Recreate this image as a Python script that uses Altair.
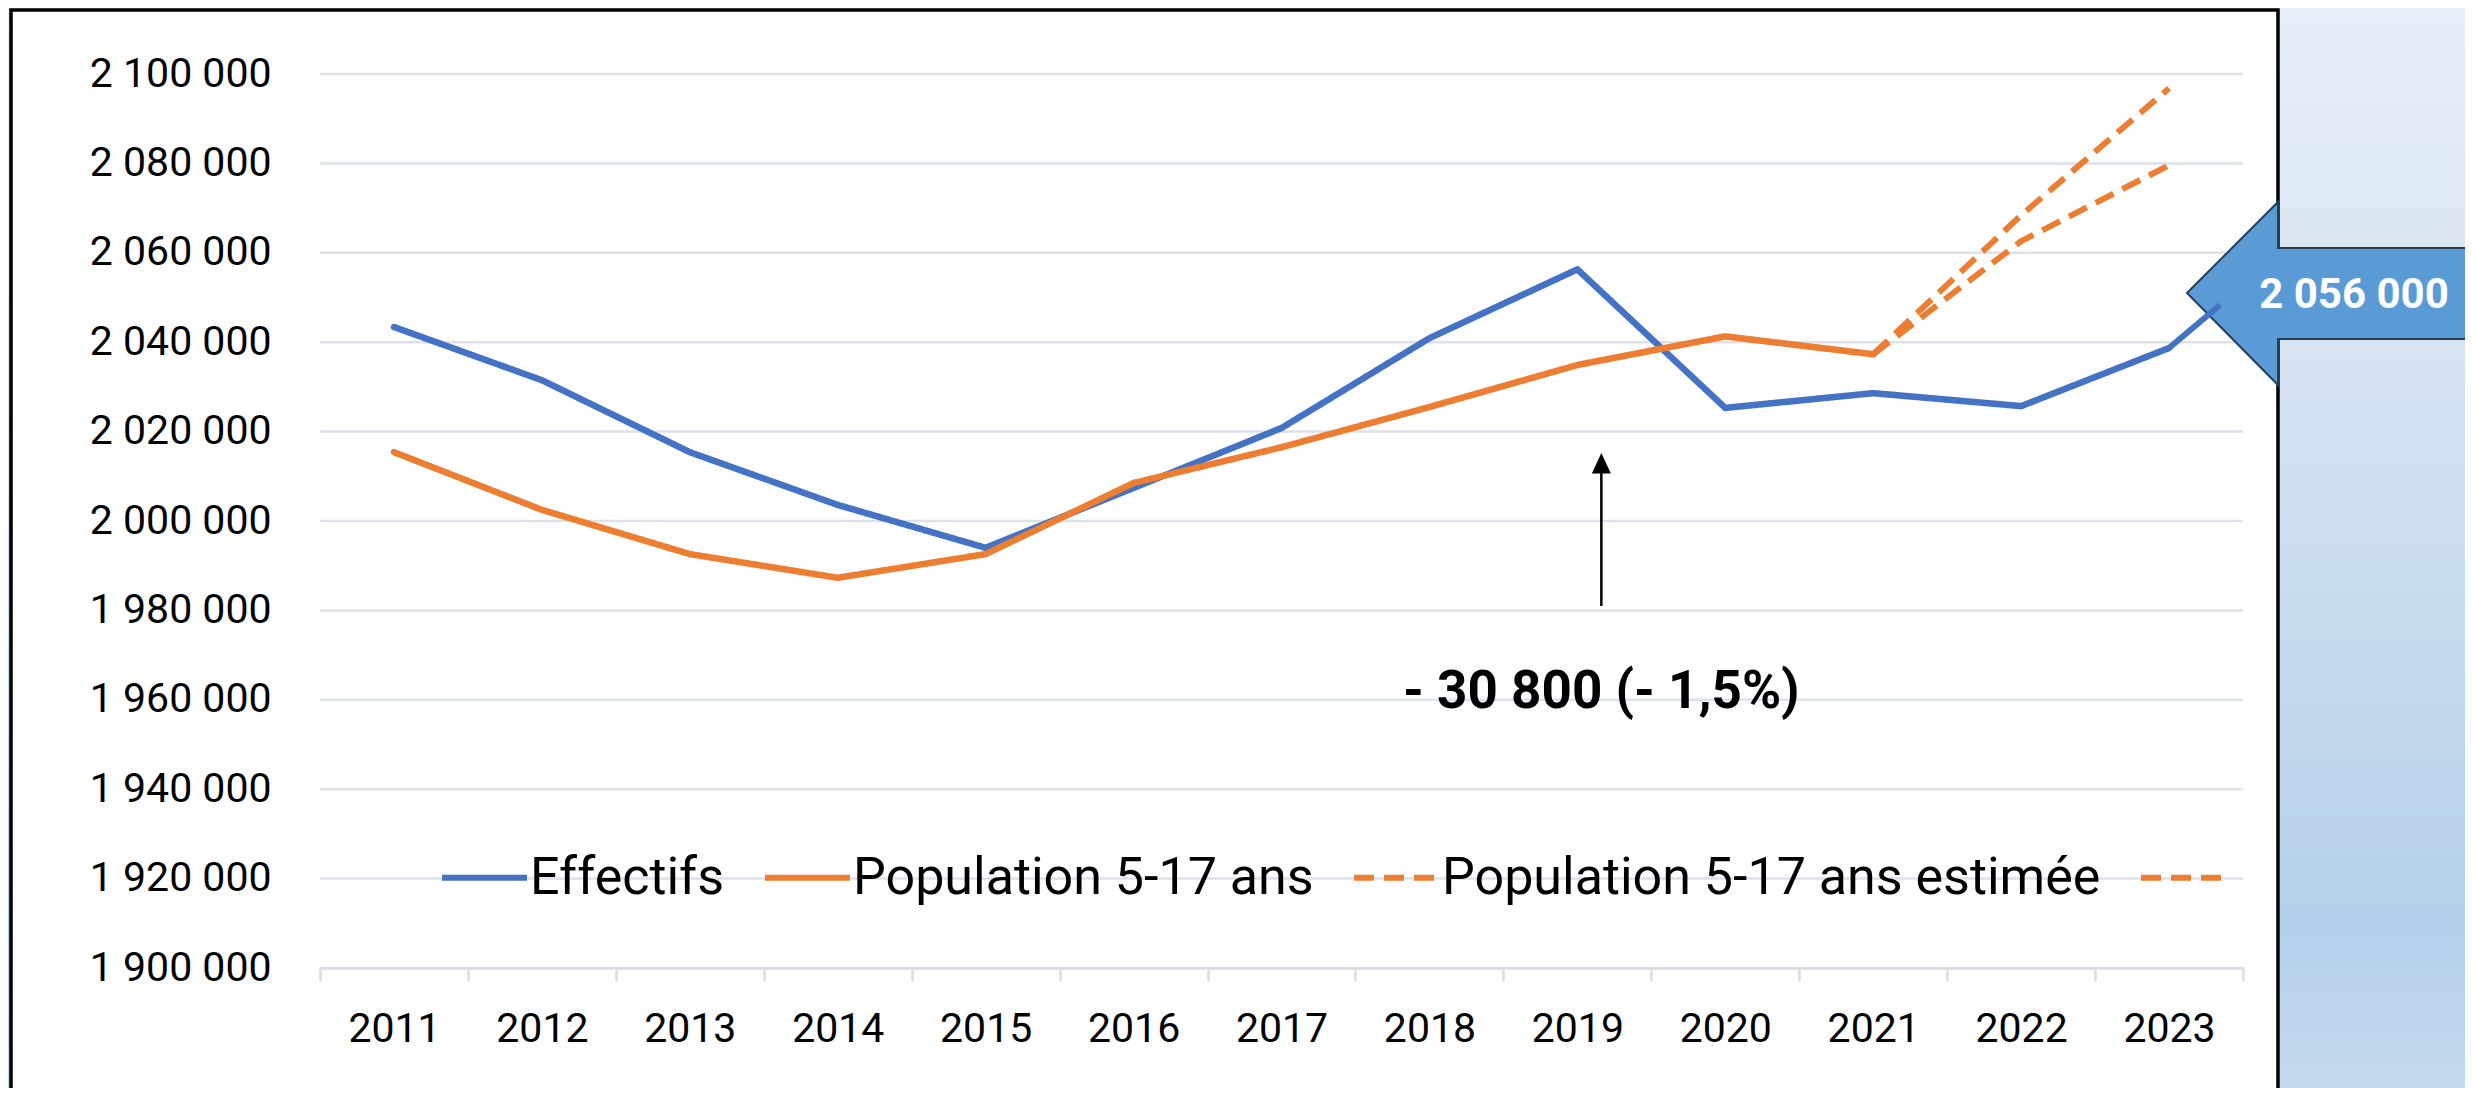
import altair as alt
import pandas as pd

# ---------------- data ----------------
years = [str(y) for y in range(2011, 2024)]
effectifs = [2043400, 2031500, 2015400, 2003600, 1994000, 2007400, 2020800,
             2040900, 2056300, 2025300, 2028600, 2025700, 2038700]
pop_years = years[:11]
population = [2015400, 2002500, 1992600, 1987300, 1992600, 2008500, 2016500,
              2025500, 2034900, 2041300, 2037300]
est_years = ["2021", "2022", "2023"]
est_basse = [2037300, 2062600, 2079600]
est_haute = [2037300, 2068400, 2096800]
series = ["Effectifs", "Population 5-17 ans", "Population 5-17 ans estimée",
          "Population 5-17 ans estimée (haute)"]
series_colors = ["#4472c4", "#ed7d31", "#ed7d31", "#ed7d31"]
y_ticks = list(range(1900000, 2100001, 20000))

annot_year = "2019"
annot_text = "- 30 800 (- 1,5%)"
annot_text_value = [1961700]
arrow_from = [1981000]
arrow_head = [2012860]
callout_year = "2023"
callout_text = "2 056 000"

# ---------------- tables ----------------
rows = []
for y, v in zip(years, effectifs):
    rows.append({"year": y, "value": v, "serie": series[0], "kind": "solid"})
for y, v in zip(pop_years, population):
    rows.append({"year": y, "value": v, "serie": series[1], "kind": "solid"})
for y, v in zip(est_years, est_basse):
    rows.append({"year": y, "value": v, "serie": series[2], "kind": "dash"})
for y, v in zip(est_years, est_haute):
    rows.append({"year": y, "value": v, "serie": series[3], "kind": "dash"})
df = pd.DataFrame(rows)
grid_df = pd.DataFrame({"value": y_ticks})
arrow_df = pd.DataFrame({"year": [annot_year], "value": arrow_from, "value2": arrow_head,
                         "text": [annot_text], "tv": annot_text_value})
callout_df = pd.DataFrame({"year": [callout_year],
                           "value": [effectifs[years.index(callout_year)]],
                           "text": [callout_text]})
dummy = pd.DataFrame({"a": [0]})

W, H = 1923, 894
FONT = "Roboto"

x_enc = alt.X("year:O",
              scale=alt.Scale(type="band", domain=years, paddingInner=0, paddingOuter=0),
              bandPosition=0.5,
              axis=alt.Axis(title=None, labelAngle=0, tickBand="extent", grid=False,
                            domainColor="#d9dde4", domainWidth=2.5,
                            tickColor="#d9dde4", tickWidth=2.5, tickSize=13,
                            labelFont=FONT, labelFontSize=41, labelColor="#000000",
                            labelPadding=28, labelLimit=0, zindex=1))
y_scale = alt.Scale(domain=[1900000, 2100000], nice=False, zero=False)
y_enc = alt.Y("value:Q", scale=y_scale,
              axis=alt.Axis(title=None, values=y_ticks, grid=False, domain=False,
                            ticks=False, tickSize=0,
                            labelExpr="replace(replace(format(datum.value, ','), ',', ' '), ',', ' ')",
                            labelFont=FONT, labelFontSize=41, labelColor="#000000",
                            labelPadding=49, labelLimit=0, zindex=1))

color_enc = alt.Color("serie:N",
                      scale=alt.Scale(domain=series, range=series_colors),
                      legend=alt.Legend(title=None, orient="none", direction="horizontal",
                                        legendX=119, legendY=758, padding=0,
                                        symbolType="stroke", symbolSize=7225,
                                        symbolStrokeWidth=6, labelOffset=0,
                                        columnPadding=28, labelFont=FONT,
                                        labelFontSize=52, labelColor="#000000",
                                        labelLimit=0,
                                        labelExpr="datum.label == '" + series[3] + "' ? '' : datum.label"))
dash_enc = alt.StrokeDash("serie:N",
                          scale=alt.Scale(domain=series,
                                          range=[[1, 0], [1, 0], [20, 10], [20, 10]]),
                          legend=None)

# ---------------- decorations ----------------
bg = alt.Chart(dummy).mark_rect(
    fill=alt.LinearGradient(
        gradient="linear", x1=0, x2=0, y1=0, y2=1,
        stops=[alt.GradientStop(color="#e6eef8", offset=0),
               alt.GradientStop(color="#dce7f3", offset=0.23),
               alt.GradientStop(color="#c5daee", offset=0.6),
               alt.GradientStop(color="#b3d0ea", offset=0.85),
               alt.GradientStop(color="#c4daef", offset=1)])
).encode(x=alt.value(-312), x2=alt.value(2145), y=alt.value(-66), y2=alt.value(1014))

box = alt.Chart(dummy).mark_rect(fill="#ffffff", stroke="#000000", strokeWidth=3.5).encode(
    x=alt.value(-309), x2=alt.value(1958), y=alt.value(-64), y2=alt.value(1040))

grid = alt.Chart(grid_df).mark_rule(color="#dde2ea", strokeWidth=2.5).encode(y=y_enc)

# ---------------- data lines ----------------
base = alt.Chart(df).encode(x=x_enc, y=y_enc, color=color_enc, strokeDash=dash_enc,
                            detail="serie:N")
solid = base.transform_filter(alt.datum.kind == "solid").mark_line(
    strokeWidth=6.5, strokeCap="round", strokeJoin="round")
dashed = base.transform_filter(alt.datum.kind == "dash").mark_line(
    strokeWidth=6, strokeCap="butt", strokeJoin="round")

# ---------------- annotations ----------------
arrow_line = alt.Chart(arrow_df).mark_rule(color="#000000", strokeWidth=2.5, xOffset=24).encode(
    x=x_enc, y=y_enc, y2="value2:Q")
arrow_tip = alt.Chart(arrow_df).mark_point(
    shape="M0,-1.05 L-0.95,1 L0.95,1 Z", size=400, filled=True, fill="#000000",
    stroke="#000000", strokeWidth=0, opacity=1, xOffset=24).encode(
    x=x_enc, y=alt.Y("value2:Q", scale=y_scale))
arrow_text = alt.Chart(arrow_df).mark_text(
    font=FONT, fontSize=53, fontWeight="bold", color="#000000", align="center",
    baseline="middle", xOffset=24).encode(
    x=x_enc, y=alt.Y("tv:Q", scale=y_scale), text="text:N")

leader = alt.Chart(callout_df).mark_rule(color="#4472c4", strokeWidth=6).encode(
    x=x_enc, y=y_enc, x2=alt.value(1900), y2=alt.value(231))
callout = alt.Chart(dummy).mark_point(
    shape="M0,0 L0.91,-0.91 L0.91,-0.45 L3.2,-0.45 L3.2,0.46 L0.91,0.46 L0.91,0.92 Z",
    size=40000, filled=True, fill="#5b9bd5", stroke="#233f56", strokeWidth=2, opacity=1
).encode(x=alt.value(1867), y=alt.value(219))
callout_label = alt.Chart(callout_df).mark_text(
    font=FONT, fontSize=42, fontWeight="bold", color="#ffffff", align="center",
    baseline="middle").encode(x=alt.value(2034), y=alt.value(221), text="text:N")

chart = alt.layer(
    bg, box, grid, solid, dashed, arrow_line, arrow_tip, arrow_text, callout, leader,
    callout_label
).properties(
    width=W, height=H,
    padding={"left": 312, "top": 66, "right": 222, "bottom": 120},
    autosize=alt.AutoSizeParams(type="none"),
    background="#ffffff",
).configure_view(stroke=None).configure(font=FONT)

chart.save("out.html", embed_options={"renderer": "svg", "actions": False})
